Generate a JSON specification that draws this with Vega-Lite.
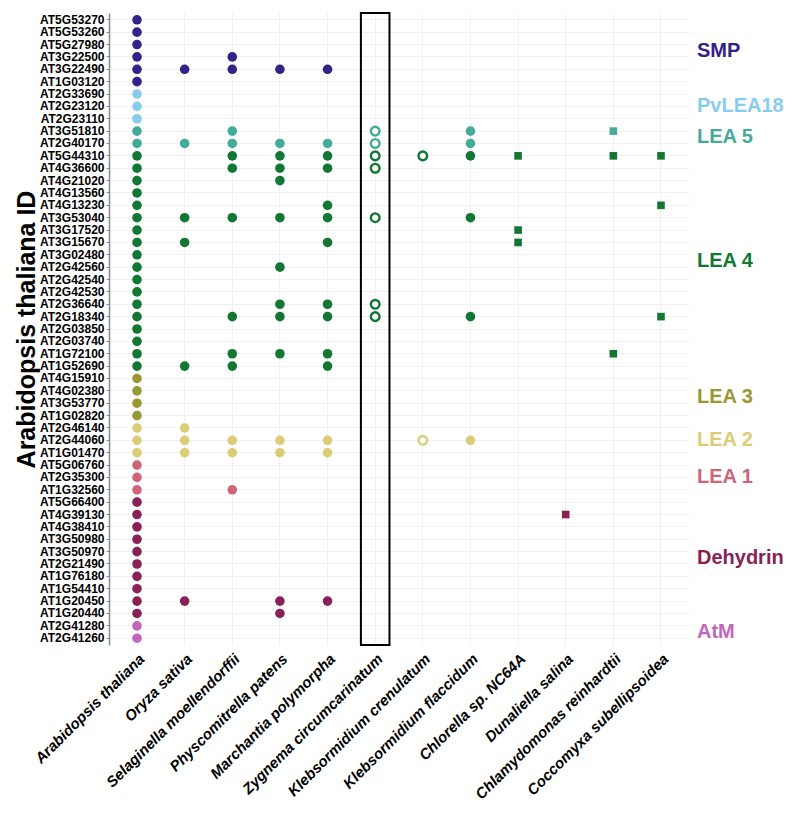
{
  "$schema": "https://vega.github.io/schema/vega-lite/v6.json",
  "autosize": {"type": "none"},
  "padding": {"left": 109, "top": 13, "right": 111, "bottom": 171},
  "width": 580,
  "height": 632,
  "background": "white",
  "config": {
    "view": {"stroke": null},
    "font": "Liberation Sans",
    "axis": {"gridColor": "#eeeeee", "gridWidth": 0.8}
  },
  "datasets": {
    "genes": [
      {"gene": "AT5G53270", "family": "SMP"},
      {"gene": "AT5G53260", "family": "SMP"},
      {"gene": "AT5G27980", "family": "SMP"},
      {"gene": "AT3G22500", "family": "SMP"},
      {"gene": "AT3G22490", "family": "SMP"},
      {"gene": "AT1G03120", "family": "SMP"},
      {"gene": "AT2G33690", "family": "PvLEA18"},
      {"gene": "AT2G23120", "family": "PvLEA18"},
      {"gene": "AT2G23110", "family": "PvLEA18"},
      {"gene": "AT3G51810", "family": "LEA 5"},
      {"gene": "AT2G40170", "family": "LEA 5"},
      {"gene": "AT5G44310", "family": "LEA 4"},
      {"gene": "AT4G36600", "family": "LEA 4"},
      {"gene": "AT4G21020", "family": "LEA 4"},
      {"gene": "AT4G13560", "family": "LEA 4"},
      {"gene": "AT4G13230", "family": "LEA 4"},
      {"gene": "AT3G53040", "family": "LEA 4"},
      {"gene": "AT3G17520", "family": "LEA 4"},
      {"gene": "AT3G15670", "family": "LEA 4"},
      {"gene": "AT3G02480", "family": "LEA 4"},
      {"gene": "AT2G42560", "family": "LEA 4"},
      {"gene": "AT2G42540", "family": "LEA 4"},
      {"gene": "AT2G42530", "family": "LEA 4"},
      {"gene": "AT2G36640", "family": "LEA 4"},
      {"gene": "AT2G18340", "family": "LEA 4"},
      {"gene": "AT2G03850", "family": "LEA 4"},
      {"gene": "AT2G03740", "family": "LEA 4"},
      {"gene": "AT1G72100", "family": "LEA 4"},
      {"gene": "AT1G52690", "family": "LEA 4"},
      {"gene": "AT4G15910", "family": "LEA 3"},
      {"gene": "AT4G02380", "family": "LEA 3"},
      {"gene": "AT3G53770", "family": "LEA 3"},
      {"gene": "AT1G02820", "family": "LEA 3"},
      {"gene": "AT2G46140", "family": "LEA 2"},
      {"gene": "AT2G44060", "family": "LEA 2"},
      {"gene": "AT1G01470", "family": "LEA 2"},
      {"gene": "AT5G06760", "family": "LEA 1"},
      {"gene": "AT2G35300", "family": "LEA 1"},
      {"gene": "AT1G32560", "family": "LEA 1"},
      {"gene": "AT5G66400", "family": "Dehydrin"},
      {"gene": "AT4G39130", "family": "Dehydrin"},
      {"gene": "AT4G38410", "family": "Dehydrin"},
      {"gene": "AT3G50980", "family": "Dehydrin"},
      {"gene": "AT3G50970", "family": "Dehydrin"},
      {"gene": "AT2G21490", "family": "Dehydrin"},
      {"gene": "AT1G76180", "family": "Dehydrin"},
      {"gene": "AT1G54410", "family": "Dehydrin"},
      {"gene": "AT1G20450", "family": "Dehydrin"},
      {"gene": "AT1G20440", "family": "Dehydrin"},
      {"gene": "AT2G41280", "family": "AtM"},
      {"gene": "AT2G41260", "family": "AtM"}
    ],
    "species": [
      {"species": "Arabidopsis thaliana", "evidence": "genome"},
      {"species": "Oryza sativa", "evidence": "genome"},
      {"species": "Selaginella moellendorffii", "evidence": "genome"},
      {"species": "Physcomitrella patens", "evidence": "genome"},
      {"species": "Marchantia polymorpha", "evidence": "genome"},
      {"species": "Zygnema circumcarinatum", "evidence": "transcriptome"},
      {"species": "Klebsormidium crenulatum", "evidence": "transcriptome"},
      {"species": "Klebsormidium flaccidum", "evidence": "genome"},
      {"species": "Chlorella sp. NC64A", "evidence": "chlorophyte"},
      {"species": "Dunaliella salina", "evidence": "chlorophyte"},
      {"species": "Chlamydomonas reinhardtii", "evidence": "chlorophyte"},
      {"species": "Coccomyxa subellipsoidea", "evidence": "chlorophyte"}
    ],
    "hits": [
      {"species": "Arabidopsis thaliana", "gene": "AT5G53270"},
      {"species": "Arabidopsis thaliana", "gene": "AT5G53260"},
      {"species": "Arabidopsis thaliana", "gene": "AT5G27980"},
      {"species": "Arabidopsis thaliana", "gene": "AT3G22500"},
      {"species": "Arabidopsis thaliana", "gene": "AT3G22490"},
      {"species": "Arabidopsis thaliana", "gene": "AT1G03120"},
      {"species": "Arabidopsis thaliana", "gene": "AT2G33690"},
      {"species": "Arabidopsis thaliana", "gene": "AT2G23120"},
      {"species": "Arabidopsis thaliana", "gene": "AT2G23110"},
      {"species": "Arabidopsis thaliana", "gene": "AT3G51810"},
      {"species": "Arabidopsis thaliana", "gene": "AT2G40170"},
      {"species": "Arabidopsis thaliana", "gene": "AT5G44310"},
      {"species": "Arabidopsis thaliana", "gene": "AT4G36600"},
      {"species": "Arabidopsis thaliana", "gene": "AT4G21020"},
      {"species": "Arabidopsis thaliana", "gene": "AT4G13560"},
      {"species": "Arabidopsis thaliana", "gene": "AT4G13230"},
      {"species": "Arabidopsis thaliana", "gene": "AT3G53040"},
      {"species": "Arabidopsis thaliana", "gene": "AT3G17520"},
      {"species": "Arabidopsis thaliana", "gene": "AT3G15670"},
      {"species": "Arabidopsis thaliana", "gene": "AT3G02480"},
      {"species": "Arabidopsis thaliana", "gene": "AT2G42560"},
      {"species": "Arabidopsis thaliana", "gene": "AT2G42540"},
      {"species": "Arabidopsis thaliana", "gene": "AT2G42530"},
      {"species": "Arabidopsis thaliana", "gene": "AT2G36640"},
      {"species": "Arabidopsis thaliana", "gene": "AT2G18340"},
      {"species": "Arabidopsis thaliana", "gene": "AT2G03850"},
      {"species": "Arabidopsis thaliana", "gene": "AT2G03740"},
      {"species": "Arabidopsis thaliana", "gene": "AT1G72100"},
      {"species": "Arabidopsis thaliana", "gene": "AT1G52690"},
      {"species": "Arabidopsis thaliana", "gene": "AT4G15910"},
      {"species": "Arabidopsis thaliana", "gene": "AT4G02380"},
      {"species": "Arabidopsis thaliana", "gene": "AT3G53770"},
      {"species": "Arabidopsis thaliana", "gene": "AT1G02820"},
      {"species": "Arabidopsis thaliana", "gene": "AT2G46140"},
      {"species": "Arabidopsis thaliana", "gene": "AT2G44060"},
      {"species": "Arabidopsis thaliana", "gene": "AT1G01470"},
      {"species": "Arabidopsis thaliana", "gene": "AT5G06760"},
      {"species": "Arabidopsis thaliana", "gene": "AT2G35300"},
      {"species": "Arabidopsis thaliana", "gene": "AT1G32560"},
      {"species": "Arabidopsis thaliana", "gene": "AT5G66400"},
      {"species": "Arabidopsis thaliana", "gene": "AT4G39130"},
      {"species": "Arabidopsis thaliana", "gene": "AT4G38410"},
      {"species": "Arabidopsis thaliana", "gene": "AT3G50980"},
      {"species": "Arabidopsis thaliana", "gene": "AT3G50970"},
      {"species": "Arabidopsis thaliana", "gene": "AT2G21490"},
      {"species": "Arabidopsis thaliana", "gene": "AT1G76180"},
      {"species": "Arabidopsis thaliana", "gene": "AT1G54410"},
      {"species": "Arabidopsis thaliana", "gene": "AT1G20450"},
      {"species": "Arabidopsis thaliana", "gene": "AT1G20440"},
      {"species": "Arabidopsis thaliana", "gene": "AT2G41280"},
      {"species": "Arabidopsis thaliana", "gene": "AT2G41260"},
      {"species": "Oryza sativa", "gene": "AT3G22490"},
      {"species": "Oryza sativa", "gene": "AT2G40170"},
      {"species": "Oryza sativa", "gene": "AT3G53040"},
      {"species": "Oryza sativa", "gene": "AT3G15670"},
      {"species": "Oryza sativa", "gene": "AT1G52690"},
      {"species": "Oryza sativa", "gene": "AT2G46140"},
      {"species": "Oryza sativa", "gene": "AT2G44060"},
      {"species": "Oryza sativa", "gene": "AT1G01470"},
      {"species": "Oryza sativa", "gene": "AT1G20450"},
      {"species": "Selaginella moellendorffii", "gene": "AT3G22500"},
      {"species": "Selaginella moellendorffii", "gene": "AT3G22490"},
      {"species": "Selaginella moellendorffii", "gene": "AT3G51810"},
      {"species": "Selaginella moellendorffii", "gene": "AT2G40170"},
      {"species": "Selaginella moellendorffii", "gene": "AT5G44310"},
      {"species": "Selaginella moellendorffii", "gene": "AT4G36600"},
      {"species": "Selaginella moellendorffii", "gene": "AT3G53040"},
      {"species": "Selaginella moellendorffii", "gene": "AT2G18340"},
      {"species": "Selaginella moellendorffii", "gene": "AT1G72100"},
      {"species": "Selaginella moellendorffii", "gene": "AT1G52690"},
      {"species": "Selaginella moellendorffii", "gene": "AT2G44060"},
      {"species": "Selaginella moellendorffii", "gene": "AT1G01470"},
      {"species": "Selaginella moellendorffii", "gene": "AT1G32560"},
      {"species": "Physcomitrella patens", "gene": "AT3G22490"},
      {"species": "Physcomitrella patens", "gene": "AT2G40170"},
      {"species": "Physcomitrella patens", "gene": "AT5G44310"},
      {"species": "Physcomitrella patens", "gene": "AT4G36600"},
      {"species": "Physcomitrella patens", "gene": "AT4G21020"},
      {"species": "Physcomitrella patens", "gene": "AT3G53040"},
      {"species": "Physcomitrella patens", "gene": "AT2G42560"},
      {"species": "Physcomitrella patens", "gene": "AT2G36640"},
      {"species": "Physcomitrella patens", "gene": "AT2G18340"},
      {"species": "Physcomitrella patens", "gene": "AT1G72100"},
      {"species": "Physcomitrella patens", "gene": "AT2G44060"},
      {"species": "Physcomitrella patens", "gene": "AT1G01470"},
      {"species": "Physcomitrella patens", "gene": "AT1G20450"},
      {"species": "Physcomitrella patens", "gene": "AT1G20440"},
      {"species": "Marchantia polymorpha", "gene": "AT3G22490"},
      {"species": "Marchantia polymorpha", "gene": "AT2G40170"},
      {"species": "Marchantia polymorpha", "gene": "AT5G44310"},
      {"species": "Marchantia polymorpha", "gene": "AT4G36600"},
      {"species": "Marchantia polymorpha", "gene": "AT4G13230"},
      {"species": "Marchantia polymorpha", "gene": "AT3G53040"},
      {"species": "Marchantia polymorpha", "gene": "AT3G15670"},
      {"species": "Marchantia polymorpha", "gene": "AT2G36640"},
      {"species": "Marchantia polymorpha", "gene": "AT2G18340"},
      {"species": "Marchantia polymorpha", "gene": "AT1G72100"},
      {"species": "Marchantia polymorpha", "gene": "AT1G52690"},
      {"species": "Marchantia polymorpha", "gene": "AT2G44060"},
      {"species": "Marchantia polymorpha", "gene": "AT1G01470"},
      {"species": "Marchantia polymorpha", "gene": "AT1G20450"},
      {"species": "Zygnema circumcarinatum", "gene": "AT3G51810"},
      {"species": "Zygnema circumcarinatum", "gene": "AT2G40170"},
      {"species": "Zygnema circumcarinatum", "gene": "AT5G44310"},
      {"species": "Zygnema circumcarinatum", "gene": "AT4G36600"},
      {"species": "Zygnema circumcarinatum", "gene": "AT3G53040"},
      {"species": "Zygnema circumcarinatum", "gene": "AT2G36640"},
      {"species": "Zygnema circumcarinatum", "gene": "AT2G18340"},
      {"species": "Klebsormidium crenulatum", "gene": "AT5G44310"},
      {"species": "Klebsormidium crenulatum", "gene": "AT2G44060"},
      {"species": "Klebsormidium flaccidum", "gene": "AT3G51810"},
      {"species": "Klebsormidium flaccidum", "gene": "AT2G40170"},
      {"species": "Klebsormidium flaccidum", "gene": "AT5G44310"},
      {"species": "Klebsormidium flaccidum", "gene": "AT3G53040"},
      {"species": "Klebsormidium flaccidum", "gene": "AT2G18340"},
      {"species": "Klebsormidium flaccidum", "gene": "AT2G44060"},
      {"species": "Chlorella sp. NC64A", "gene": "AT5G44310"},
      {"species": "Chlorella sp. NC64A", "gene": "AT3G17520"},
      {"species": "Chlorella sp. NC64A", "gene": "AT3G15670"},
      {"species": "Dunaliella salina", "gene": "AT4G39130"},
      {"species": "Chlamydomonas reinhardtii", "gene": "AT3G51810"},
      {"species": "Chlamydomonas reinhardtii", "gene": "AT5G44310"},
      {"species": "Chlamydomonas reinhardtii", "gene": "AT1G72100"},
      {"species": "Coccomyxa subellipsoidea", "gene": "AT5G44310"},
      {"species": "Coccomyxa subellipsoidea", "gene": "AT4G13230"},
      {"species": "Coccomyxa subellipsoidea", "gene": "AT2G18340"}
    ],
    "labels": [
      {"family": "SMP", "gene": "AT5G27980", "between": true},
      {"family": "PvLEA18", "gene": "AT2G23120", "between": false},
      {"family": "LEA 5", "gene": "AT3G51810", "between": true},
      {"family": "LEA 4", "gene": "AT3G02480", "between": true},
      {"family": "LEA 3", "gene": "AT4G02380", "between": true},
      {"family": "LEA 2", "gene": "AT2G44060", "between": false},
      {"family": "LEA 1", "gene": "AT2G35300", "between": false},
      {"family": "Dehydrin", "gene": "AT3G50970", "between": true},
      {"family": "AtM", "gene": "AT2G41280", "between": true}
    ],
    "box": [{"species": "Zygnema circumcarinatum"}]
  },
  "layer": [
    {
      "data": {"name": "hits"},
      "transform": [
        {"lookup": "gene", "from": {"data": {"name": "genes"}, "key": "gene", "fields": ["family"]}},
        {"lookup": "species", "from": {"data": {"name": "species"}, "key": "species", "fields": ["evidence"]}}
      ],
      "mark": {"type": "point", "filled": true, "opacity": 1},
      "encoding": {
        "x": {
          "field": "species", "type": "nominal",
          "scale": {"type": "band", "paddingInner": 0.4, "paddingOuter": 0.288,
            "domain": ["Arabidopsis thaliana", "Oryza sativa", "Selaginella moellendorffii", "Physcomitrella patens", "Marchantia polymorpha", "Zygnema circumcarinatum", "Klebsormidium crenulatum", "Klebsormidium flaccidum", "Chlorella sp. NC64A", "Dunaliella salina", "Chlamydomonas reinhardtii", "Coccomyxa subellipsoidea"]},
          "axis": {"title": null, "labelAngle": -45, "labelFontSize": 15, "labelFontWeight": "bold", "labelFontStyle": "italic", "labelColor": "black", "labelLimit": 400, "domain": false, "ticks": false, "labelPadding": 6, "grid": true, "zindex": 0}
        },
        "y": {
          "field": "gene", "type": "nominal",
          "scale": {"type": "band", "paddingInner": 0, "paddingOuter": 0.05,
            "domain": ["AT5G53270", "AT5G53260", "AT5G27980", "AT3G22500", "AT3G22490", "AT1G03120", "AT2G33690", "AT2G23120", "AT2G23110", "AT3G51810", "AT2G40170", "AT5G44310", "AT4G36600", "AT4G21020", "AT4G13560", "AT4G13230", "AT3G53040", "AT3G17520", "AT3G15670", "AT3G02480", "AT2G42560", "AT2G42540", "AT2G42530", "AT2G36640", "AT2G18340", "AT2G03850", "AT2G03740", "AT1G72100", "AT1G52690", "AT4G15910", "AT4G02380", "AT3G53770", "AT1G02820", "AT2G46140", "AT2G44060", "AT1G01470", "AT5G06760", "AT2G35300", "AT1G32560", "AT5G66400", "AT4G39130", "AT4G38410", "AT3G50980", "AT3G50970", "AT2G21490", "AT1G76180", "AT1G54410", "AT1G20450", "AT1G20440", "AT2G41280", "AT2G41260"]},
          "axis": {"title": "Arabidopsis thaliana ID", "titleFontSize": 25, "titleFontWeight": "bold", "titleColor": "black", "titlePadding": 0,
            "labelFontSize": 12, "labelFontWeight": "bold", "labelColor": "black", "labelPadding": 2,
            "domainColor": "#8a8a8a", "domainWidth": 1.5, "tickColor": "#8a8a8a", "tickSize": 3, "tickWidth": 1, "grid": true, "zindex": 0}
        },
        "shape": {"field": "evidence", "type": "nominal", "legend": null,
          "scale": {"domain": ["genome", "transcriptome", "chlorophyte"], "range": ["circle", "circle", "square"]}},
        "size": {"field": "evidence", "type": "nominal", "legend": null,
          "scale": {"domain": ["genome", "transcriptome", "chlorophyte"], "range": [92, 58, 120]}},
        "fill": {
          "condition": {"test": "datum.evidence === 'transcriptome'", "value": "white"},
          "field": "family", "type": "nominal", "legend": null,
          "scale": {"domain": ["SMP", "PvLEA18", "LEA 5", "LEA 4", "LEA 3", "LEA 2", "LEA 1", "Dehydrin", "AtM"],
            "range": ["#332288", "#88CCEE", "#44AA99", "#117733", "#999933", "#DDCC77", "#CC6677", "#882255", "#C266BB"]}
        },
        "stroke": {
          "field": "family", "type": "nominal", "legend": null,
          "scale": {"domain": ["SMP", "PvLEA18", "LEA 5", "LEA 4", "LEA 3", "LEA 2", "LEA 1", "Dehydrin", "AtM"],
            "range": ["#332288", "#88CCEE", "#44AA99", "#117733", "#999933", "#DDCC77", "#CC6677", "#882255", "#C266BB"]}
        },
        "strokeWidth": {"condition": {"test": "datum.evidence === 'transcriptome'", "value": 2.4}, "value": 0}
      }
    },
    {
      "data": {"name": "box"},
      "mark": {"type": "rect", "fill": null, "stroke": "black", "strokeWidth": 2},
      "encoding": {
        "x": {"field": "species", "type": "nominal"}
      }
    },
    {
      "data": {"name": "labels"},
      "transform": [{"filter": "datum.between"}],
      "mark": {"type": "text", "align": "left", "baseline": "middle", "dx": 8, "fontSize": 20, "fontWeight": "bold"},
      "encoding": {
        "x": {"value": "width"},
        "y": {"field": "gene", "type": "nominal", "bandPosition": 1},
        "text": {"field": "family"},
        "color": {"field": "family", "type": "nominal", "legend": null,
          "scale": {"domain": ["SMP", "PvLEA18", "LEA 5", "LEA 4", "LEA 3", "LEA 2", "LEA 1", "Dehydrin", "AtM"],
            "range": ["#332288", "#88CCEE", "#44AA99", "#117733", "#999933", "#DDCC77", "#CC6677", "#882255", "#C266BB"]}}
      }
    },
    {
      "data": {"name": "labels"},
      "transform": [{"filter": "!datum.between"}],
      "mark": {"type": "text", "align": "left", "baseline": "middle", "dx": 8, "fontSize": 20, "fontWeight": "bold"},
      "encoding": {
        "x": {"value": "width"},
        "y": {"field": "gene", "type": "nominal", "bandPosition": 0.5},
        "text": {"field": "family"},
        "color": {"field": "family", "type": "nominal", "legend": null}
      }
    }
  ]
}
